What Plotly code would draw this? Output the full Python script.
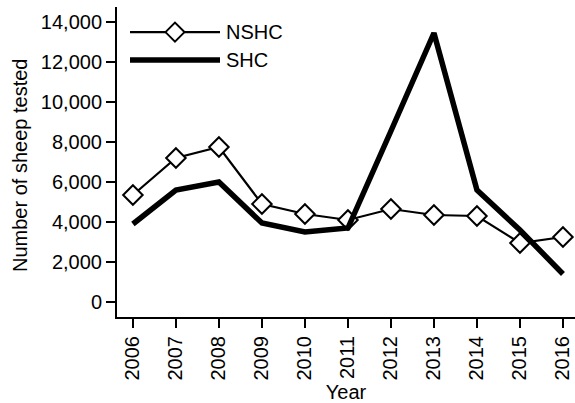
import plotly.graph_objects as go

years = [2006, 2007, 2008, 2009, 2010, 2011, 2012, 2013, 2014, 2015, 2016]
nshc = [5350, 7200, 7750, 4900, 4400, 4100, 4650, 4350, 4300, 2950, 3250]
shc = [3900, 5600, 6000, 3950, 3500, 3700, 8550, 13450, 5600, 3600, 1400]
y_ticks = [0, 2000, 4000, 6000, 8000, 10000, 12000, 14000]

FONT = "Liberation Sans, Arial, sans-serif"
FS = 20

fig = go.Figure()
fig.add_trace(go.Scatter(
    x=years, y=nshc, mode="lines+markers", name="NSHC",
    line=dict(color="black", width=2.2),
    marker=dict(symbol="diamond", size=15, color="white",
                line=dict(color="black", width=2)),
    showlegend=False,
))
fig.add_trace(go.Scatter(
    x=years, y=shc, mode="lines", name="SHC",
    line=dict(color="black", width=5.5),
    showlegend=False,
))

# custom legend (long sample lines)
leg_x0, leg_x1, leg_xm, leg_tx = 0.0284, 0.2249, 0.1266, 0.2336
fig.add_shape(type="line", xref="paper", yref="paper", x0=leg_x0, x1=leg_x1,
              y0=0.919, y1=0.919, line=dict(color="black", width=2.2))
fig.add_shape(type="path", xref="paper", yref="paper", xsizemode="pixel",
              ysizemode="pixel", xanchor=leg_xm, yanchor=0.919,
              path="M-9.5,0 L0,9.5 L9.5,0 L0,-9.5 Z", fillcolor="white",
              line=dict(color="black", width=2))
fig.add_shape(type="line", xref="paper", yref="paper", x0=leg_x0, x1=leg_x1,
              y0=0.829, y1=0.829, line=dict(color="black", width=5.5))
fig.add_annotation(text="NSHC", xref="paper", yref="paper", x=leg_tx, y=0.919,
                   xanchor="left", yanchor="middle", showarrow=False,
                   font=dict(size=FS, color="black", family=FONT))
fig.add_annotation(text="SHC", xref="paper", yref="paper", x=leg_tx, y=0.829,
                   xanchor="left", yanchor="middle", showarrow=False,
                   font=dict(size=FS, color="black", family=FONT))
# y axis title
fig.add_annotation(text="Number of sheep tested", xref="paper", yref="paper",
                   x=-0.212, y=0.49, xanchor="center", yanchor="middle",
                   textangle=-90, showarrow=False,
                   font=dict(size=FS, color="black", family=FONT))

fig.update_layout(
    width=575, height=403,
    margin=dict(l=117, r=0, t=7, b=86),
    plot_bgcolor="white", paper_bgcolor="white",
    font=dict(family=FONT, size=FS, color="black"),
    xaxis=dict(
        range=[2005.63, 2016.28], tickmode="array", tickvals=years,
        ticktext=[str(y) for y in years], tickangle=-90,
        showline=True, linecolor="black", linewidth=2,
        ticks="outside", ticklen=9, tickwidth=2, tickcolor="black",
        showgrid=False, zeroline=False, automargin=False,
        title=dict(text="Year", font=dict(size=FS)),
    ),
    yaxis=dict(
        range=[-750, 14750], tickmode="array", tickvals=y_ticks,
        tickformat=",", showline=True, linecolor="black", linewidth=2,
        ticks="outside", ticklen=9, tickwidth=2, tickcolor="black",
        showgrid=False, zeroline=False, automargin=False,
    ),
)

fig.write_html(
    "out.html",
    config={"displayModeBar": False},
    post_script="document.body.style.margin='0';document.body.style.overflow='hidden';",
)
